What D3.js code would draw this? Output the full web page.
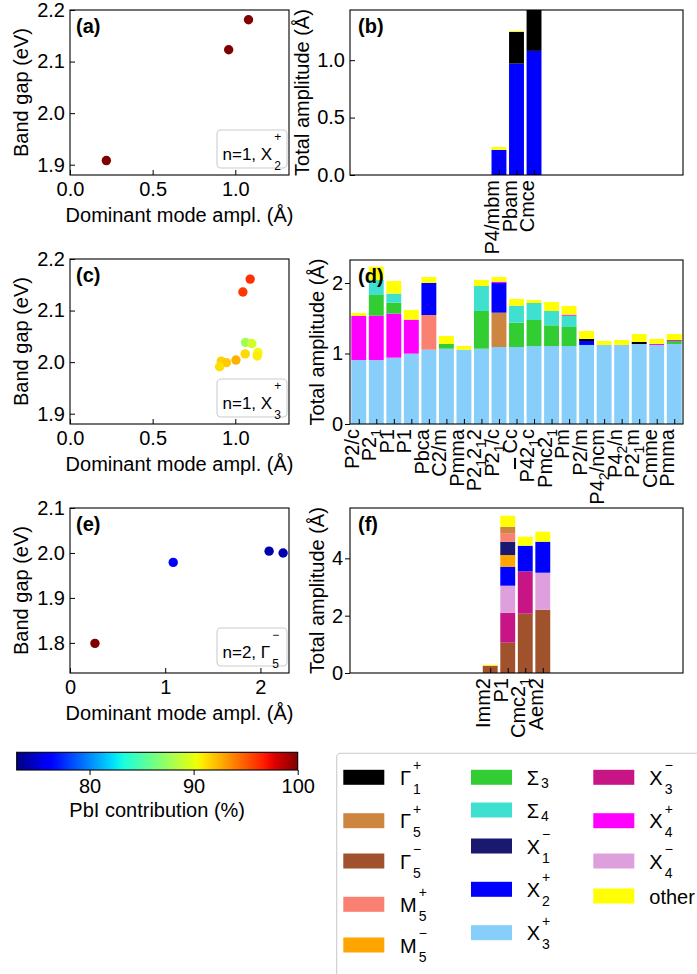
<!DOCTYPE html>
<html>
<head>
<meta charset="utf-8">
<script src="https://d3js.org/d3.v7.min.js"></script>
<style>
body { margin: 0; background: #fff; }
svg text { font-family: "Liberation Sans", Arial, sans-serif; fill: #000; }
</style>
</head>
<body>
<div id="fig"></div>
<script>
// ---- modes (legend order) ----
const modeKeys = ["Γ1+", "Γ5+", "Γ5-", "M5+", "M5-", "Σ3", "Σ4", "X1-", "X2+", "X3+", "X3-", "X4+", "X4-", "other"];
const modeColors = ["#000000", "#cd853f", "#a0522d", "#fa8072", "#ffa500", "#32cd32", "#40e0d0",
                    "#191970", "#0000ff", "#87cefa", "#c71585", "#ff00ff", "#dda0dd", "#ffff00"];

// ---- scatter data ----
const aAmpl = [0.22, 0.96, 1.08];
const aGap = [1.908, 2.123, 2.181];
const aPbI = [100, 100, 100];

const cAmpl = [1.090, 1.046, 1.062, 1.100, 1.060, 1.137, 1.133, 1.004, 0.915, 0.946, 0.905];
const cGap = [2.161, 2.136, 2.038, 2.036, 2.016, 2.019, 2.012, 2.004, 2.002, 1.999, 1.991];
const cPbI = [96.2, 96.0, 87.7, 89.2, 91.4, 90.3, 90.8, 92.5, 91.6, 91.8, 91.2];

const eAmpl = [0.262, 1.084, 2.091, 2.238];
const eGap = [1.799, 1.979, 2.004, 2.000];
const ePbI = [100, 76.2, 74.0, 74.2];

// ---- bar data: group labels and stacked segments [mode, amplitude] bottom -> top ----
// '_' = next char subscript, '!' = next char overlined
const bGroups = ["P4/mbm", "Pbam", "Cmce"];
const bStacks = [
  [["X2+", 0.218], ["other", 0.026]],
  [["X2+", 0.970], ["Γ1+", 0.277], ["other", 0.008]],
  [["X2+", 1.081], ["Γ1+", 0.370]]
];

const dGroups = ["P2/c", "P2_1", "P1", "P1", "Pbca", "C2/m", "Pmma", "P2_12_12", "P2_1/c", "Cc",
                 "P!42_1c", "Pmc2_1", "Pm", "P2/m", "P4_2/ncm", "P4_2/n", "P2_1m", "Cmme", "Pmma"];
const dStacks = [
  [["X3+", 0.908], ["X4+", 0.624], ["other", 0.042]],
  [["X3+", 0.908], ["X4+", 0.628], ["Σ3", 0.294], ["Σ4", 0.213], ["other", 0.188]],
  [["X3+", 0.941], ["X4+", 0.624], ["Σ3", 0.156], ["Σ4", 0.128], ["other", 0.179]],
  [["X3+", 0.998], ["X4+", 0.482], ["other", 0.137]],
  [["X3+", 1.054], ["M5+", 0.492], ["X2+", 0.454], ["other", 0.085]],
  [["X3+", 1.068], ["Σ3", 0.067], ["other", 0.113]],
  [["X3+", 1.054], ["other", 0.052]],
  [["X3+", 1.068], ["Σ3", 0.535], ["Σ4", 0.354], ["other", 0.086]],
  [["X3+", 1.092], ["Γ5+", 0.487], ["X2+", 0.421], ["X4+", 0.019], ["other", 0.066]],
  [["X3+", 1.092], ["Σ3", 0.345], ["Σ4", 0.241], ["other", 0.095]],
  [["X3+", 1.106], ["Σ3", 0.369], ["Σ4", 0.241], ["other", 0.043]],
  [["X3+", 1.106], ["Σ3", 0.294], ["Σ4", 0.203], ["other", 0.127]],
  [["X3+", 1.106], ["Σ3", 0.270], ["Σ4", 0.160], ["X4+", 0.014], ["other", 0.124]],
  [["X3+", 1.121], ["X2+", 0.056], ["Γ1+", 0.029], ["other", 0.113]],
  [["X3+", 1.121], ["other", 0.056]],
  [["X3+", 1.121], ["other", 0.070]],
  [["X3+", 1.135], ["Γ1+", 0.028], ["other", 0.114]],
  [["X3+", 1.121], ["X4+", 0.014], ["other", 0.071]],
  [["X3+", 1.135], ["Σ3", 0.042], ["X4+", 0.014], ["other", 0.086]]
];

const fGroups = ["Imm2", "P1", "Cmc2_1", "Aem2"];
const fStacks = [
  [["Γ5-", 0.255], ["other", 0.035]],
  [["Γ5-", 1.057], ["X3-", 1.047], ["X4-", 0.942], ["X2+", 0.663], ["M5-", 0.407], ["X1-", 0.465],
   ["M5+", 0.279], ["Γ5+", 0.244], ["other", 0.384]],
  [["Γ5-", 2.069], ["X3-", 1.476], ["X2+", 0.897], ["other", 0.314]],
  [["Γ5-", 2.209], ["X4-", 1.290], ["X2+", 1.082], ["other", 0.349]]
];

const cbarTicks = [80, 90, 100];
const cbarDomain = [73, 100];

// ---- setup ----
const svg = d3.select("#fig").append("svg").attr("width", 697).attr("height", 974);
const FS = 20;
const nSlots = 19;

// matplotlib jet
const jr = d3.scaleLinear().domain([0, 0.35, 0.66, 0.89, 1]).range([0, 0, 1, 1, 0.5]).clamp(true);
const jg = d3.scaleLinear().domain([0, 0.125, 0.375, 0.64, 0.91, 1]).range([0, 0, 1, 1, 0, 0]).clamp(true);
const jb = d3.scaleLinear().domain([0, 0.11, 0.34, 0.65, 1]).range([0.5, 1, 1, 0, 0]).clamp(true);
const cnorm = d3.scaleLinear().domain(cbarDomain).range([0, 1]).clamp(true);
function jet(v) {
  const t = cnorm(v);
  return d3.rgb(jr(t) * 255, jg(t) * 255, jb(t) * 255).formatHex();
}
const modeColor = d3.scaleOrdinal().domain(modeKeys).range(modeColors);

// label with stacked sup/sub after base
function stackedLabel(g, x, y, base, sub, sup, size, small, supUp, subDown) {
  const t = g.append("text").attr("x", x).attr("y", y).attr("font-size", size).text(base);
  const len = t.node().getComputedTextLength();
  if (sup) g.append("text").attr("x", x + len + 2).attr("y", y - supUp).attr("font-size", small).text(sup);
  if (sub) g.append("text").attr("x", x + len + 2).attr("y", y + subDown).attr("font-size", small).text(sub);
}
function modeParts(k) {
  if (k === "other") return ["other", null, null];
  return [k[0], k[1], k[2] ? (k[2] === "-" ? "−" : "+") : null];
}

// rich tick label: '_' subscript, '!' overline
function richText(text, str) {
  let shift = 0;
  for (let i = 0; i < str.length; i++) {
    let c = str[i];
    if (c === "_") {
      i++;
      text.append("tspan").attr("font-size", 14).attr("dy", 5).text(str[i]);
      shift = 5;
    } else if (c === "!") {
      i++;
      text.append("tspan").attr("dy", -shift).style("text-decoration", "overline").text(str[i]);
      shift = 0;
    } else {
      text.append("tspan").attr("dy", -shift).text(c);
      shift = 0;
    }
  }
}

function frame(g, w, h) {
  g.append("rect").attr("width", w).attr("height", h).attr("fill", "none")
    .attr("stroke", "#000").attr("stroke-width", 1.1);
}

function scatterPanel(cfg) {
  const g = svg.append("g").attr("transform", `translate(${cfg.left},${cfg.top})`);
  const x = d3.scaleLinear().domain(cfg.xDomain).range([0, cfg.w]);
  const y = d3.scaleLinear().domain(cfg.yDomain).range([cfg.h, 0]);

  const xa = g.append("g").attr("transform", `translate(0,${cfg.h})`)
    .call(d3.axisBottom(x).tickValues(cfg.xTicks).tickFormat(cfg.xFmt).tickSizeInner(-5).tickSizeOuter(0).tickPadding(7));
  const ya = g.append("g")
    .call(d3.axisLeft(y).tickValues(cfg.yTicks).tickFormat(d3.format(".1f")).tickSizeInner(-5).tickSizeOuter(0).tickPadding(5));
  [xa, ya].forEach(a => {
    a.select(".domain").remove();
    a.selectAll("text").attr("font-size", FS).attr("font-family", null);
    a.selectAll("line").attr("stroke-width", 1);
  });

  g.selectAll("circle.pt").data(d3.range(cfg.xs.length)).join("circle")
    .attr("class", "pt")
    .attr("cx", i => x(cfg.xs[i])).attr("cy", i => y(cfg.ys[i]))
    .attr("r", 4.7).attr("fill", i => jet(cfg.cs[i]));

  frame(g, cfg.w, cfg.h);

  g.append("text").attr("x", 6).attr("y", 23).attr("font-size", FS).attr("font-weight", "bold").text(cfg.tag);

  // annotation box
  const bx = cfg.w - 72, by = cfg.h - 45;
  g.append("rect").attr("x", bx).attr("y", by).attr("width", 70).attr("height", 38).attr("rx", 4)
    .attr("fill", "#fff").attr("stroke", "#cccccc").attr("stroke-width", 1.1);
  stackedLabel(g, bx + 5.5, by + 30, cfg.note[0], cfg.note[1], cfg.note[2], 17, 12, 19, 10);

  g.append("text").attr("x", cfg.w / 2).attr("y", cfg.h + 46.5).attr("text-anchor", "middle")
    .attr("font-size", FS).text("Dominant mode ampl. (Å)");
  g.append("text").attr("transform", `translate(${27.5 - cfg.left},${cfg.h / 2}) rotate(-90)`)
    .attr("text-anchor", "middle").attr("font-size", FS).text("Band gap (eV)");
}

function barPanel(cfg) {
  const g = svg.append("g").attr("transform", `translate(${cfg.left},${cfg.top})`);
  const x = d3.scaleLinear().domain([-0.5, nSlots - 0.5]).range([0, cfg.w]);
  const y = d3.scaleLinear().domain(cfg.yDomain).range([cfg.h, 0]);
  const off = (nSlots - cfg.groups.length) / 2;
  const bw = 0.85;

  const clipId = "clip" + cfg.tag.replace(/\W/g, "");
  g.append("clipPath").attr("id", clipId).append("rect").attr("width", cfg.w).attr("height", cfg.h);

  const segs = [];
  cfg.stacks.forEach((st, i) => {
    let acc = 0;
    st.forEach(([m, v]) => { segs.push({ i: i, m: m, y0: acc, y1: acc + v }); acc += v; });
  });
  g.append("g").attr("clip-path", `url(#${clipId})`)
    .selectAll("rect").data(segs).join("rect")
    .attr("x", d => x(off + d.i - bw / 2))
    .attr("width", x(bw) - x(0))
    .attr("y", d => y(d.y1))
    .attr("height", d => y(d.y0) - y(d.y1))
    .attr("fill", d => modeColor(d.m));

  const pos = cfg.groups.map((_, i) => off + i);
  const xa = g.append("g").attr("transform", `translate(0,${cfg.h})`)
    .call(d3.axisBottom(x).tickValues(pos).tickFormat("").tickSizeInner(-5).tickSizeOuter(0));
  const ya = g.append("g")
    .call(d3.axisLeft(y).tickValues(cfg.yTicks).tickFormat(cfg.yFmt).tickSizeInner(cfg.yTickIn ? -5 : 5).tickSizeOuter(0).tickPadding(cfg.yTickIn ? 5 : 2));
  [xa, ya].forEach(a => {
    a.select(".domain").remove();
    a.selectAll("text").attr("font-size", FS).attr("font-family", null);
  });

  cfg.groups.forEach((lab, i) => {
    const t = g.append("text")
      .attr("transform", `translate(${x(pos[i])},${cfg.h + 5}) rotate(-90)`)
      .attr("text-anchor", "end").attr("dy", "0.33em").attr("font-size", FS);
    richText(t, lab);
  });

  frame(g, cfg.w, cfg.h);
  g.append("text").attr("x", 8).attr("y", 23).attr("font-size", FS).attr("font-weight", "bold").text(cfg.tag);
  g.append("text").attr("transform", `translate(${cfg.ylabX - cfg.left},${cfg.h / 2}) rotate(-90)`)
    .attr("text-anchor", "middle").attr("font-size", FS).text("Total amplitude (Å)");
}

// ---- panels ----
scatterPanel({ tag: "(a)", left: 70, top: 10, w: 219, h: 165, xDomain: [0, 1.325], yDomain: [1.88, 2.2],
  xTicks: [0, 0.5, 1.0], xFmt: d3.format(".1f"), yTicks: [1.9, 2.0, 2.1, 2.2],
  xs: aAmpl, ys: aGap, cs: aPbI, note: ["n=1, X", "2", "+"] });
scatterPanel({ tag: "(c)", left: 70, top: 259, w: 219, h: 165, xDomain: [0, 1.325], yDomain: [1.88, 2.2],
  xTicks: [0, 0.5, 1.0], xFmt: d3.format(".1f"), yTicks: [1.9, 2.0, 2.1, 2.2],
  xs: cAmpl, ys: cGap, cs: cPbI, note: ["n=1, X", "3", "+"] });
scatterPanel({ tag: "(e)", left: 70, top: 508, w: 219, h: 165, xDomain: [0, 2.30], yDomain: [1.733, 2.1],
  xTicks: [0, 1, 2], xFmt: d3.format("d"), yTicks: [1.8, 1.9, 2.0, 2.1],
  xs: eAmpl, ys: eGap, cs: ePbI, note: ["n=2, Γ", "5", "−"] });

barPanel({ tag: "(b)", left: 350, top: 10, w: 333, h: 165, yDomain: [0, 1.437], yTicks: [0, 0.5, 1.0],
  yFmt: d3.format(".1f"), yTickIn: true, groups: bGroups, stacks: bStacks, ylabX: 309 });
barPanel({ tag: "(d)", left: 350, top: 260, w: 333, h: 164, yDomain: [0, 2.326], yTicks: [0, 1, 2],
  yFmt: d3.format("d"), yTickIn: false, groups: dGroups, stacks: dStacks, ylabX: 324 });
barPanel({ tag: "(f)", left: 350, top: 508, w: 333, h: 165, yDomain: [0, 5.757], yTicks: [0, 2, 4],
  yFmt: d3.format("d"), yTickIn: false, groups: fGroups, stacks: fStacks, ylabX: 324 });

// ---- colorbar ----
(function () {
  const cb = { left: 16.7, top: 752.3, w: 281, h: 17.7 };
  const g = svg.append("g").attr("transform", `translate(${cb.left},${cb.top})`);
  const x = d3.scaleLinear().domain(cbarDomain).range([0, cb.w]);
  const grad = svg.append("defs").append("linearGradient").attr("id", "jetgrad");
  d3.range(0, 1.0001, 0.02).forEach(t => {
    grad.append("stop").attr("offset", t).attr("stop-color", jet(cbarDomain[0] + t * (cbarDomain[1] - cbarDomain[0])));
  });
  g.append("rect").attr("width", cb.w).attr("height", cb.h).attr("fill", "url(#jetgrad)");
  const ax = g.append("g").attr("transform", `translate(0,${cb.h})`)
    .call(d3.axisBottom(x).tickValues(cbarTicks).tickSizeInner(5).tickSizeOuter(0).tickPadding(4));
  ax.select(".domain").remove();
  ax.selectAll("text").attr("font-size", FS).attr("font-family", null);
  frame(g, cb.w, cb.h);
  g.append("text").attr("x", cb.w / 2).attr("y", 65).attr("text-anchor", "middle")
    .attr("font-size", FS).text("PbI contribution (%)");
})();

// ---- legend ----
(function () {
  const g = svg.append("g");
  g.append("rect").attr("x", 336.7).attr("y", 753.3).attr("width", 380).attr("height", 240).attr("rx", 4)
    .attr("fill", "#fff").attr("stroke", "#cccccc").attr("stroke-width", 1.1);
  const cols = [
    { idx: [0, 1, 2, 3, 4], px: 343.3, tx: 400, rows: [0, 43.4, 83.7, 127, 167.7] },
    { idx: [5, 6, 7, 8, 9], px: 471, tx: 526.7, rows: [0, 32.7, 68.7, 112, 155.4] },
    { idx: [10, 11, 12, 13], px: 593.3, tx: 649.3, rows: [0, 43.4, 83.7, 118.7] }
  ];
  const y0 = 777.3;
  cols.forEach(col => {
    col.idx.forEach((k, j) => {
      const cy = y0 + col.rows[j];
      g.append("rect").attr("x", col.px).attr("y", cy - 7.5).attr("width", 41).attr("height", 15)
        .attr("fill", modeColor(modeKeys[k]));
      const [base, sub, sup] = modeParts(modeKeys[k]);
      stackedLabel(g, col.tx, cy + 7.5, base, sub, sup, FS, 14, 14.5, sup ? 9 : 3.5);
    });
  });
})();
</script>
</body>
</html>
